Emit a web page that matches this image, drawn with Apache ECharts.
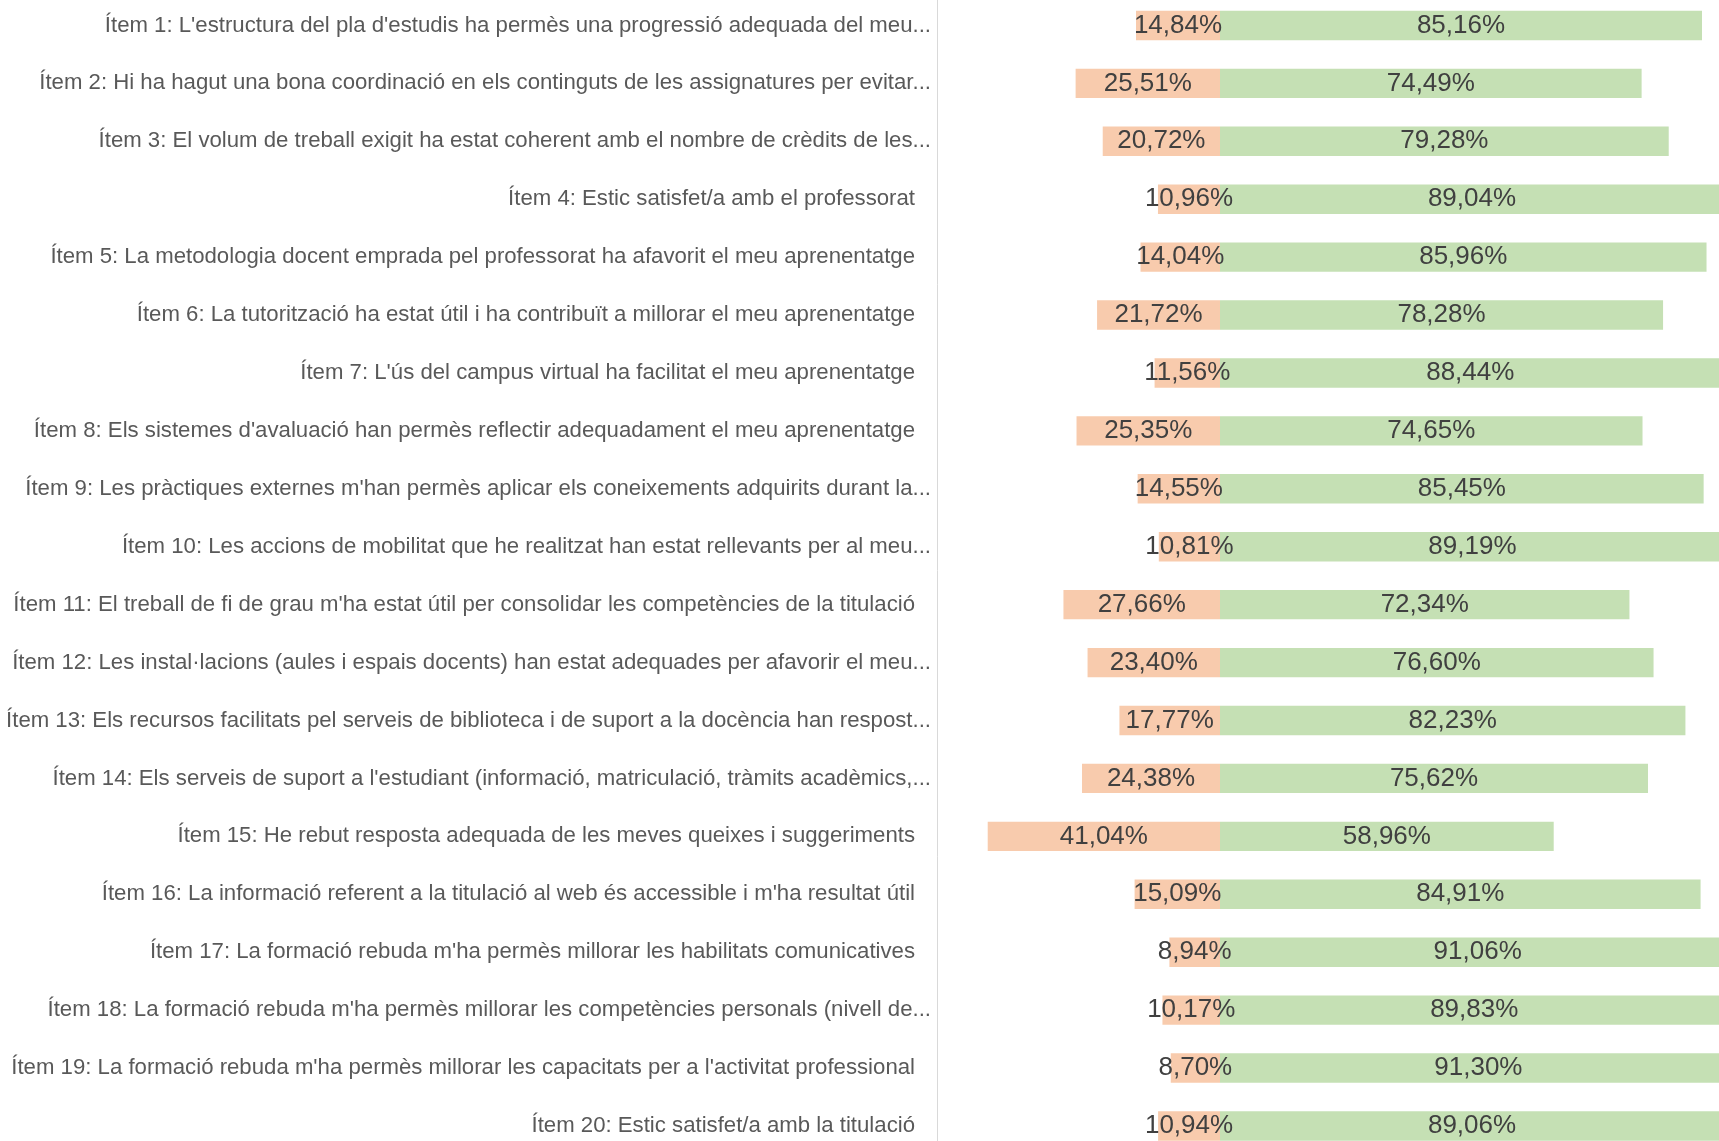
<!DOCTYPE html>
<html>
<head>
<meta charset="utf-8">
<script src="https://cdn.jsdelivr.net/npm/echarts@6/dist/echarts.min.js"></script>
<style>
html,body{margin:0;padding:0;background:#fff;}
#chart{width:1719px;height:1141px;}
</style>
</head>
<body>
<div id="chart"></div>
<script>
const categories = [
  "Ítem 1: L'estructura del pla d'estudis ha permès una progressió adequada del meu...",
  "Ítem 2: Hi ha hagut una bona coordinació en els continguts de les assignatures per evitar...",
  "Ítem 3: El volum de treball exigit ha estat coherent amb el nombre de crèdits de les...",
  "Ítem 4: Estic satisfet/a amb el professorat",
  "Ítem 5: La metodologia docent emprada pel professorat ha afavorit el meu aprenentatge",
  "Ítem 6: La tutorització ha estat útil i ha contribuït a millorar el meu aprenentatge",
  "Ítem 7: L'ús del campus virtual ha facilitat el meu aprenentatge",
  "Ítem 8: Els sistemes d'avaluació han permès reflectir adequadament el meu aprenentatge",
  "Ítem 9: Les pràctiques externes m'han permès aplicar els coneixements adquirits durant la...",
  "Ítem 10: Les accions de mobilitat que he realitzat han estat rellevants per al meu...",
  "Ítem 11: El treball de fi de grau m'ha estat útil per consolidar les competències de la titulació",
  "Ítem 12: Les instal·lacions (aules i espais docents) han estat adequades per afavorir el meu...",
  "Ítem 13: Els recursos facilitats pel serveis de biblioteca i de suport a la docència han respost...",
  "Ítem 14: Els serveis de suport a l'estudiant (informació, matriculació, tràmits acadèmics,...",
  "Ítem 15: He rebut resposta adequada de les meves queixes i suggeriments",
  "Ítem 16: La informació referent a la titulació al web és accessible i m'ha resultat útil",
  "Ítem 17: La formació rebuda m'ha permès millorar les habilitats comunicatives",
  "Ítem 18: La formació rebuda m'ha permès millorar les competències personals (nivell de...",
  "Ítem 19: La formació rebuda m'ha permès millorar les capacitats per a l'activitat professional",
  "Ítem 20: Estic satisfet/a amb la titulació"
];
const noSatisfets = [14.84, 25.51, 20.72, 10.96, 14.04, 21.72, 11.56, 25.35, 14.55, 10.81,
                     27.66, 23.40, 17.77, 24.38, 41.04, 15.09, 8.94, 10.17, 8.70, 10.94];
const satisfets = [85.16, 74.49, 79.28, 89.04, 85.96, 78.28, 88.44, 74.65, 85.45, 89.19,
                   72.34, 76.60, 82.23, 75.62, 58.96, 84.91, 91.06, 89.83, 91.30, 89.06];

const fmt = p => Math.abs(p.value).toFixed(2).replace('.', ',') + '%';
const FONT = '"Liberation Sans", Arial, sans-serif';

const chart = echarts.init(document.getElementById('chart'), null, {renderer: 'canvas'});
chart.setOption({
  animation: false,
  backgroundColor: '#ffffff',
  grid: {left: 937, top: -3.5, width: 849, height: 1158.4, containLabel: false, outerBoundsMode: 'none'},
  xAxis: {
    type: 'value', min: -50, max: 100, show: false,
    splitLine: {show: false}
  },
  yAxis: {
    type: 'category', inverse: true, data: categories,
    axisLine: {show: true, onZero: false, lineStyle: {color: '#d9d9d9', width: 1}},
    axisTick: {show: false},
    splitLine: {show: false},
    axisLabel: {
      interval: 0, margin: 6,
      fontFamily: FONT, fontSize: 22.2, color: '#595959',
      formatter: v => v.endsWith('...') ? '{t|' + v + '}' : '{f|' + v + '}',
      rich: {
        t: {fontFamily: FONT, fontSize: 22.2, color: '#595959'},
        f: {fontFamily: FONT, fontSize: 22.2, color: '#595959', padding: [0, 16, 0, 0]}
      }
    }
  },
  series: [
    {
      name: 'No satisfets', type: 'bar', stack: 'total', barWidth: 29.4,
      data: noSatisfets.map(v => -v),
      itemStyle: {color: '#F8CBAD'},
      label: {show: true, position: 'inside', formatter: fmt,
              fontFamily: FONT, fontSize: 26, color: '#404040'}
    },
    {
      name: 'Satisfets', type: 'bar', stack: 'total', barWidth: 29.4,
      data: satisfets,
      itemStyle: {color: '#C5E0B4'},
      label: {show: true, position: 'inside', formatter: fmt,
              fontFamily: FONT, fontSize: 26, color: '#404040'}
    }
  ]
});
</script>
</body>
</html>
